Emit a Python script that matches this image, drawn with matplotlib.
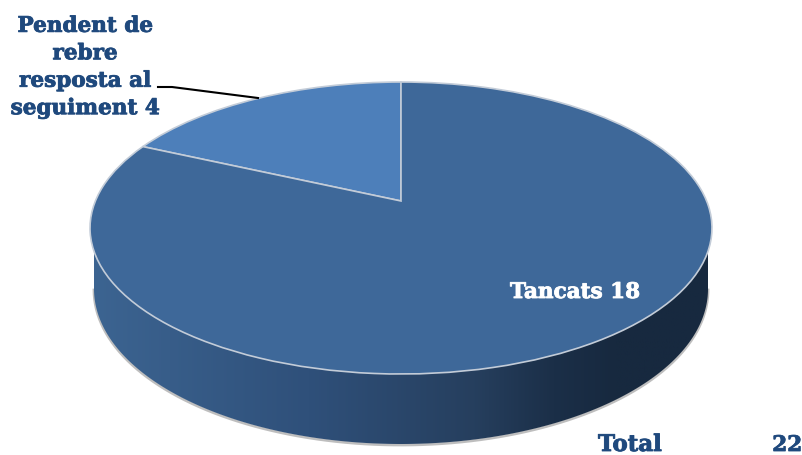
import numpy as np
import matplotlib
matplotlib.use('Agg')
import matplotlib.pyplot as plt
import matplotlib.patheffects as pe
from matplotlib.patches import Polygon
from matplotlib.transforms import Transform
from matplotlib.colors import LinearSegmentedColormap

# pie values, first slice starts at 12 o'clock and goes counter clockwise
categories = ['Pendent de\nrebre\nresposta al\nseguiment', 'Tancats']
values = [4, 18]
total_label = 'Total'
total_value = 22
colors = ['#4d7fba', '#3e6899']
text_blue = '#1f497d'

# projection of the flat pie onto the slanted disc, in pixels
cx, cy = 401, 201
sx, sy, k = 305.6, 141, 0.185


class Slant(Transform):
    input_dims = 2
    output_dims = 2

    def transform_non_affine(self, xy):
        xy = np.asarray(xy, dtype=float)
        w = 1 + k * xy[:, 1]
        return np.column_stack([cx + sx * xy[:, 0] / w, cy - sy * xy[:, 1] / w])


fig = plt.figure(figsize=(8.03, 4.55), dpi=100)
ax = fig.add_axes([0, 0, 1, 1])

wedges, _ = ax.pie(values, startangle=90, radius=1, center=(0, 0), colors=colors,
                   wedgeprops=dict(edgecolor='#c3ccd8', linewidth=1.2))
ax.set_aspect('auto')
ax.set_xlim(0, 803)
ax.set_ylim(455, 0)
ax.axis('off')

slant = Slant()
for w in wedges:
    w.set_transform(slant + ax.transData)
    w.set_zorder(3)

# side of the disc, dark gradient clipped to the lower outline
bx, by, ba, bb = 401, 289, 307, 155
t = np.linspace(np.pi, 0, 200)
base = np.column_stack([bx + ba * np.cos(t), by + bb * np.sin(t)])
outline = np.vstack([[[bx - ba, 228]], base, [[bx + ba, 228]]])

# soft grey shadow just outside the lower edge
ax.plot(base[:, 0], base[:, 1] + 1, color='#8a8a8a', lw=2, alpha=0.55, zorder=1)
side = Polygon(outline, closed=True, facecolor='none', edgecolor='none',
               transform=ax.transData)
ax.add_patch(side)
cmap = LinearSegmentedColormap.from_list('side', [(0, '#3c6491'), (0.35, '#2f507a'), (0.62, '#263f5e'),
                                                  (0.75, '#1b2f48'), (0.85, '#17293f'), (1, '#17293f')])
grad = np.linspace(0, 1, 256).reshape(1, -1)
im = ax.imshow(grad, cmap=cmap, extent=(bx - ba, bx + ba, 455, 228), aspect='auto', zorder=2)
im.set_clip_path(side)
ax.set_xlim(0, 803)
ax.set_ylim(455, 0)

# labels, thin stroke because the original type is heavier
font = dict(family='DejaVu Serif', fontweight='bold', fontsize=15.5)
blue_stroke = [pe.withStroke(linewidth=0.6, foreground=text_blue)]
ax.text(85, 67, categories[0] + ' ' + str(values[0]), ha='center', va='center', color=text_blue,
        linespacing=1.32, zorder=5, path_effects=blue_stroke, **font)
ax.text(575, 292, categories[1] + ' ' + str(values[1]), ha='center', va='center', color='white',
        zorder=5, path_effects=[pe.withStroke(linewidth=0.6, foreground='white')], **font)
ax.plot([158, 172, 258], [87, 87, 98], color='black', lw=1.5, zorder=4)

ax.text(598, 445, total_label, ha='left', va='center', color=text_blue, zorder=5,
        path_effects=blue_stroke, family='DejaVu Serif', fontweight='bold', fontsize=16.5)
ax.text(802, 445, str(total_value), ha='right', va='center', color=text_blue, zorder=5,
        path_effects=blue_stroke, **font)

fig.savefig('out.png', dpi=100)
